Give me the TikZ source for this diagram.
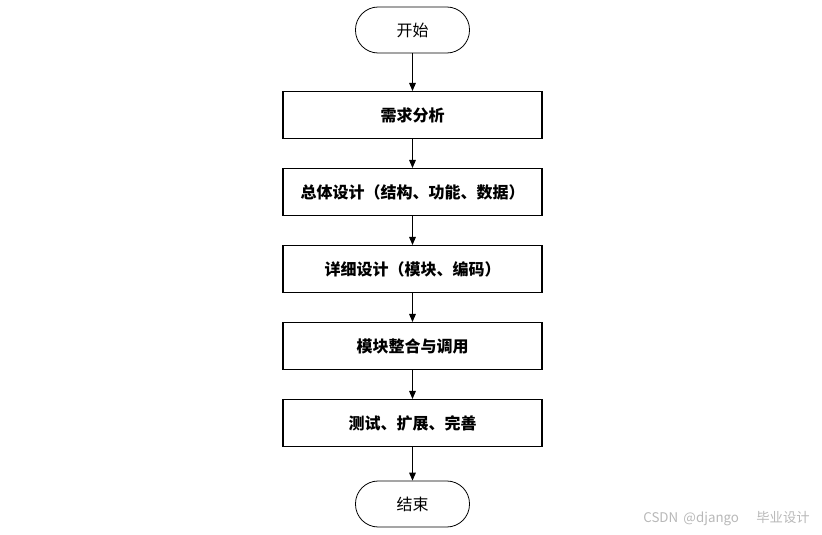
\documentclass[tikz,border=0pt]{standalone}
\usepackage{fontspec}
\newfontfamily\cjk{Noto Sans CJK SC}
\usetikzlibrary{arrows.meta}

\begin{document}
\begin{tikzpicture}[x=0.75pt,y=0.75pt,yscale=-1,xscale=1,
  term/.style={draw=black,line width=0.6pt,rounded corners=17pt,minimum width=85.5pt,minimum height=34.5pt,inner sep=0pt,font=\cjk\fontsize{12}{14}\selectfont},
  stepbox/.style={draw=black,line width=0.8pt,minimum width=194.25pt,minimum height=35.25pt,inner sep=0pt,font=\cjk\bfseries\fontsize{12}{14}\selectfont},
  arr/.style={line width=0.75pt,-{Triangle[length=6pt,width=5pt]}}]

\useasboundingbox (0,0) rectangle (822,535);

\node [term] (start) at (412.5,30) {开始};

\node [stepbox] (req) at (412.5,115) {需求分析};

\node [stepbox] (overall) at (412.5,192) {总体设计（结构、功能、数据）};

\node [stepbox] (detail) at (412.5,269) {详细设计（模块、编码）};

\node [stepbox] (integ) at (412.5,346) {模块整合与调用};

\node [stepbox] (test) at (412.5,423) {测试、扩展、完善};

\node [term] (stop) at (412.5,504) {结束};

\draw [arr] (start) -- (req);
\draw [arr] (req) -- (overall);
\draw [arr] (overall) -- (detail);
\draw [arr] (detail) -- (integ);
\draw [arr] (integ) -- (test);
\draw [arr] (test) -- (stop);

\node [anchor=east,inner sep=0pt,text=black!28,font=\cjk\fontsize{10}{12}\selectfont] (mark) at (810,519) {CSDN\, @django\hspace{13pt}毕业设计};

\end{tikzpicture}
\end{document}
